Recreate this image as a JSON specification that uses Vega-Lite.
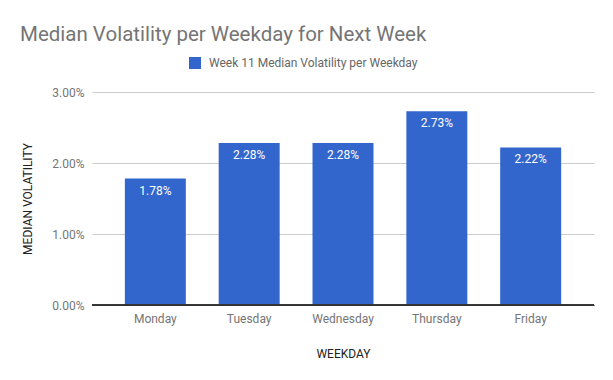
{
  "$schema": "https://vega.github.io/schema/vega-lite/v6.json",
  "width": 502,
  "height": 213,
  "autosize": {"type": "none"},
  "padding": {"left": 92, "top": 92, "right": 19, "bottom": 75},
  "background": "white",
  "config": {
    "font": "Roboto",
    "view": {"stroke": null},
    "axis": {"labelFont": "Roboto", "titleFont": "Roboto"}
  },
  "title": {
    "text": "Median Volatility per Weekday for Next Week",
    "anchor": "start",
    "frame": "group",
    "font": "Roboto",
    "fontSize": 20.5,
    "fontWeight": "normal",
    "color": "#757575",
    "dx": -72,
    "offset": 12
  },
  "data": {
    "values": [
      {"day": "Monday", "vol": 0.0178, "series": "Week 11 Median Volatility per Weekday"},
      {"day": "Tuesday", "vol": 0.0228, "series": "Week 11 Median Volatility per Weekday"},
      {"day": "Wednesday", "vol": 0.0228, "series": "Week 11 Median Volatility per Weekday"},
      {"day": "Thursday", "vol": 0.0273, "series": "Week 11 Median Volatility per Weekday"},
      {"day": "Friday", "vol": 0.0222, "series": "Week 11 Median Volatility per Weekday"}
    ]
  },
  "encoding": {
    "x": {
      "field": "day",
      "type": "nominal",
      "sort": null,
      "scale": {"paddingInner": 0.35, "paddingOuter": 0.35},
      "axis": {
        "title": "WEEKDAY",
        "labelAngle": 0,
        "labelFontSize": 12,
        "labelColor": "#757575",
        "labelPadding": 8,
        "ticks": false,
        "domainColor": "#333333",
        "titleFontSize": 12,
        "titleFontWeight": "normal",
        "titleColor": "#222222",
        "titlePadding": 24
      }
    },
    "y": {
      "field": "vol",
      "type": "quantitative",
      "scale": {"domain": [0, 0.03], "nice": false},
      "axis": {
        "title": "MEDIAN VOLATILITY",
        "format": ".2%",
        "values": [0, 0.01, 0.02, 0.03],
        "labelFontSize": 12,
        "labelColor": "#757575",
        "labelPadding": 8,
        "ticks": false,
        "domain": false,
        "gridColor": "#cccccc",
        "titleFontSize": 12,
        "titleFontWeight": "normal",
        "titleColor": "#222222",
        "titlePadding": 17
      }
    }
  },
  "layer": [
    {
      "mark": {"type": "bar"},
      "encoding": {
        "color": {
          "field": "series",
          "type": "nominal",
          "scale": {"range": ["#3366cc"]},
          "legend": {
            "title": null,
            "orient": "none",
            "legendX": 97,
            "legendY": -35,
            "symbolType": "square",
            "symbolSize": 144,
            "symbolStrokeWidth": 0,
            "labelFontSize": 12,
            "labelColor": "#666666",
            "labelFont": "Roboto",
            "labelOffset": 8,
            "labelLimit": 400
          }
        }
      }
    },
    {
      "mark": {"type": "rule", "color": "#333333"},
      "encoding": {"y": {"datum": 0}, "x": null}
    },
    {
      "mark": {"type": "text", "color": "white", "fontSize": 12, "baseline": "middle", "dy": 12, "font": "Roboto"},
      "encoding": {
        "text": {"field": "vol", "type": "quantitative", "format": ".2%"}
      }
    }
  ]
}
